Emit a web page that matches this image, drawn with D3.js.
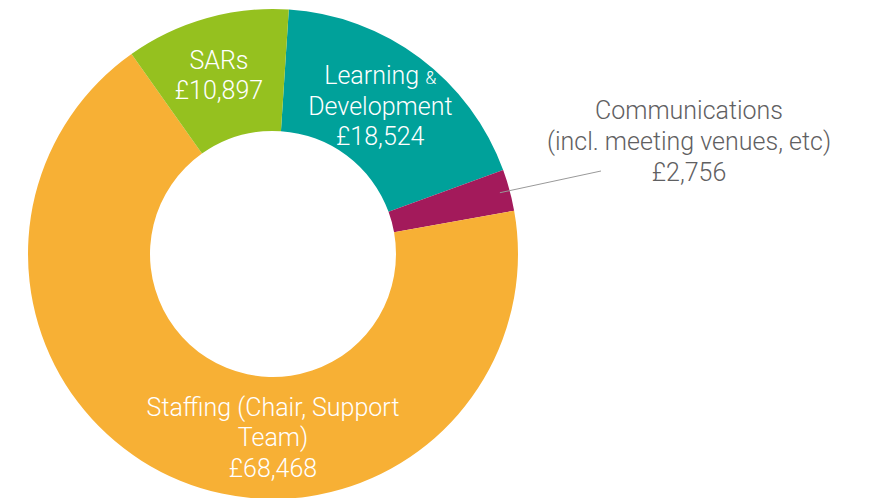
<!DOCTYPE html>
<html>
<head>
<meta charset="utf-8">
<script src="https://cdn.jsdelivr.net/npm/d3@7"></script>
<style>
  body { margin: 0; background: #fff; }
  text { font-family: Roboto, "Helvetica Neue", sans-serif; font-weight: 300; }
</style>
</head>
<body>
<div id="chart"></div>
<script>
// spending categories, in clockwise order from just right of 12 o'clock
const categories = ["Learning & Development", "Communications", "Staffing", "SARs"];
const values = [18524, 2756, 68468, 10897];
const labelLines = [
  ["Learning &", "Development", "£18,524"],
  ["Communications", "(incl. meeting venues, etc)", "£2,756"],
  ["Staffing (Chair, Support", "Team)", "£68,468"],
  ["SARs", "£10,897"]
];
const colors = ["#00a19a", "#a31a5b", "#f7b035", "#95c11f"];

const width = 871;
const height = 498;
const cx = 273, cy = 254;
const outerR = 245, innerR = 123;
const start = 3.7 * Math.PI / 180;

const svg = d3.select("#chart")
  .append("svg")
  .attr("width", width)
  .attr("height", height);

const g = svg.append("g")
  .attr("transform", `translate(${cx},${cy})`);

const data = categories.map((c, i) => ({ name: c, value: values[i], lines: labelLines[i], color: colors[i] }));

const pie = d3.pie()
  .value(d => d.value)
  .sort(null)
  .startAngle(start)
  .endAngle(start + 2 * Math.PI);

const arc = d3.arc().innerRadius(innerR).outerRadius(outerR);
const labelArc = d3.arc().innerRadius(184).outerRadius(184);
const edgeArc = d3.arc().innerRadius(235).outerRadius(235);

const arcs = pie(data);

g.selectAll("path")
  .data(arcs)
  .join("path")
    .attr("d", arc)
    .attr("fill", d => d.data.color);

const lineH = 30.5;
const fs = 25;

// inside labels
arcs.forEach(a => {
  if (a.data.name === "Communications") return;
  let [x, y] = labelArc.centroid(a);
  // big slice: label sits at the bottom of the ring
  if (a.data.name === "Staffing") { x = 0; y = 184; }
  if (a.data.name === "SARs") { x -= 4; y -= 1; }
  if (a.data.name === "Learning & Development") { x -= 3; }
  const n = a.data.lines.length;
  const t = g.append("text")
    .attr("text-anchor", "middle")
    .attr("fill", "#fff")
    .attr("font-size", fs);
  a.data.lines.forEach((l, i) => {
    const ts = t.append("tspan")
      .attr("x", x)
      .attr("y", y + (i - (n - 1) / 2) * lineH + 8);
    if (l.endsWith("&")) {
      ts.text(l.slice(0, -1));
      ts.append("tspan").attr("font-size", 18).text("&");
    } else {
      ts.text(l);
    }
  });
});

// outside label for the thin slice
const comms = arcs.find(a => a.data.name === "Communications");
const p0 = edgeArc.centroid(comms);
const lx = 689 - cx, ly = 148 - cy;
g.append("line")
  .attr("x1", p0[0]).attr("y1", p0[1])
  .attr("x2", 601 - cx).attr("y2", 171 - cy)
  .attr("stroke", "#999")
  .attr("stroke-width", 1);

const ct = g.append("text")
  .attr("text-anchor", "middle")
  .attr("fill", "#5f6062")
  .attr("font-size", fs);
comms.data.lines.forEach((l, i) => {
  ct.append("tspan")
    .attr("x", lx)
    .attr("y", ly + (i - 1) * 31 + 2)
    .text(l);
});
</script>
</body>
</html>
